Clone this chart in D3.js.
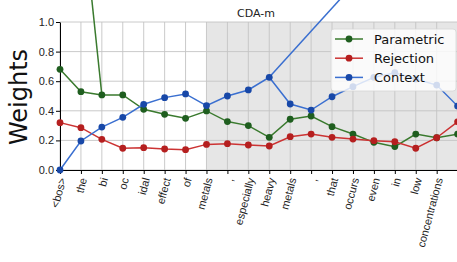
<!DOCTYPE html>
<html>
<head>
<meta charset="utf-8">
<script src="https://cdn.jsdelivr.net/npm/d3@7"></script>
<style>
  body { margin: 0; background: #fff; }
  svg { display: block; font-family: "DejaVu Sans", sans-serif; }
</style>
</head>
<body>
<svg id="chart" width="457" height="262"></svg>
<script>
// tokens along the x axis (the last point sits on the right edge, its label is out of view)
var tokens = ["<bos>", "the", "bi", "oc", "idal", "effect", "of", "metals", ",", "especially",
  "heavy", "metals", ",", "that", "occurs", "even", "in", "low", "concentrations", ""];

var parametric = [0.68, 0.529, 0.507, 0.507, 0.41, 0.376, 0.349, 0.399, 0.327, 0.30,
  0.221, 0.343, 0.365, 0.293, 0.243, 0.187, 0.158, 0.243, 0.218, 0.243];
var rejection = [0.32, 0.286, 0.207, 0.147, 0.151, 0.142, 0.137, 0.173, 0.178, 0.169,
  0.162, 0.225, 0.243, 0.221, 0.209, 0.198, 0.191, 0.147, 0.218, 0.326];
var context = [0.0, 0.196, 0.29, 0.356, 0.444, 0.489, 0.514, 0.435, 0.50, 0.541,
  0.626, 0.446, 0.405, 0.495, 0.563, 0.626, 0.657, 0.615, 0.574, 0.432];

// stray segments that leave the axes at the top (not clipped)
var parametricSpike = [[2, 0.507], [1, 1.85]];
var contextSpike = [[10, 0.626], [14, 1.25]];

var shadeFrom = 7;   // gray span starts at the second "metals" block
var yTicks = [0, 0.2, 0.4, 0.6, 0.8, 1.0];

var series = [
  {name: "Parametric", values: parametric, line: "#3a7a2e", dot: "#1f5e1f"},
  {name: "Rejection", values: rejection, line: "#cc3333", dot: "#b51f1f"},
  {name: "Context", values: context, line: "#3a6fd0", dot: "#1848a8"}
];

var svg = d3.select("#chart");
var plotLeft = 60, plotTop = 22, plotBottom = 170;
var x = d3.scaleLinear().domain([0, 19]).range([plotLeft, 457.6]);
var y = d3.scaleLinear().domain([0, 1]).range([plotBottom, plotTop]);
var xEnd = x(22);

// shaded region
svg.append("rect")
  .attr("x", x(shadeFrom)).attr("y", plotTop)
  .attr("width", xEnd - x(shadeFrom)).attr("height", plotBottom - plotTop)
  .attr("fill", "#e6e6e6");

// grid
var grid = svg.append("g").attr("stroke", "#c4c4c4").attr("stroke-width", 0.9);
grid.selectAll("line.v").data(d3.range(tokens.length)).enter().append("line")
  .attr("x1", function(d) { return x(d); }).attr("x2", function(d) { return x(d); })
  .attr("y1", plotTop).attr("y2", plotBottom);
grid.selectAll("line.h").data(yTicks).enter().append("line")
  .attr("x1", plotLeft).attr("x2", xEnd)
  .attr("y1", function(d) { return y(d); }).attr("y2", function(d) { return y(d); });

// axes
var xAxis = svg.append("g")
  .attr("transform", "translate(0," + plotBottom + ")")
  .call(d3.axisBottom(x).tickValues(d3.range(tokens.length))
    .tickFormat(function(i) { return tokens[i]; }).tickSize(4).tickSizeOuter(0));
xAxis.select(".domain").attr("d", "M" + plotLeft + ",0.5H" + xEnd).attr("stroke", "#000");
xAxis.selectAll("text")
  .attr("font-size", 11).attr("fill", "#222")
  .attr("text-anchor", "end")
  .attr("dy", "0.35em")
  .attr("transform", "translate(2,8) rotate(-75)")
  .attr("x", 0).attr("y", 0);

var yAxis = svg.append("g")
  .attr("transform", "translate(" + plotLeft + ",0)")
  .call(d3.axisLeft(y).tickValues(yTicks).tickFormat(d3.format(".1f")).tickSize(4).tickSizeOuter(0));
yAxis.select(".domain").attr("stroke", "#000");
yAxis.selectAll("text").attr("font-size", 11).attr("fill", "#222").attr("x", -6);

// lines and markers
var line = d3.line().x(function(d, i) { return x(i); }).y(function(d) { return y(d); });
var segLine = d3.line().x(function(d) { return x(d[0]); }).y(function(d) { return y(d[1]); });

series.forEach(function(s) {
  var g = svg.append("g");
  if (s.name === "Parametric") {
    g.append("path").attr("d", segLine(parametricSpike))
      .attr("fill", "none").attr("stroke", s.line).attr("stroke-width", 1.5);
  }
  if (s.name === "Context") {
    g.append("path").attr("d", segLine(contextSpike))
      .attr("fill", "none").attr("stroke", s.line).attr("stroke-width", 1.5);
  }
  g.append("path").attr("d", line(s.values))
    .attr("fill", "none").attr("stroke", s.line).attr("stroke-width", 1.5);
  g.selectAll("circle").data(s.values).enter().append("circle")
    .attr("cx", function(d, i) { return x(i); })
    .attr("cy", function(d) { return y(d); })
    .attr("r", 3.4).attr("fill", s.dot);
});

// title
svg.append("text").attr("x", 256).attr("y", 17)
  .attr("text-anchor", "middle").attr("font-size", 11).attr("fill", "#222")
  .text("CDA-m");

// y label
svg.append("text")
  .attr("transform", "translate(27,97) rotate(-90)")
  .attr("text-anchor", "middle").attr("font-size", 24).attr("fill", "#111")
  .text("Weights");

// legend
var lg = svg.append("g").attr("transform", "translate(331,29)");
lg.append("rect").attr("width", 125).attr("height", 62).attr("rx", 3)
  .attr("fill", "rgba(255,255,255,0.8)").attr("stroke", "#d6d6d6").attr("stroke-width", 0.8);
series.forEach(function(s, i) {
  var row = lg.append("g").attr("transform", "translate(0," + (10 + i * 19.2) + ")");
  row.append("line").attr("x1", 4).attr("x2", 32).attr("y1", 0).attr("y2", 0)
    .attr("stroke", s.line).attr("stroke-width", 1.5);
  row.append("circle").attr("cx", 18).attr("cy", 0).attr("r", 3.4).attr("fill", s.dot);
  row.append("text").attr("x", 43).attr("y", 0).attr("dy", "0.35em")
    .attr("font-size", 13).attr("fill", "#111").text(s.name);
});
</script>
</body>
</html>
